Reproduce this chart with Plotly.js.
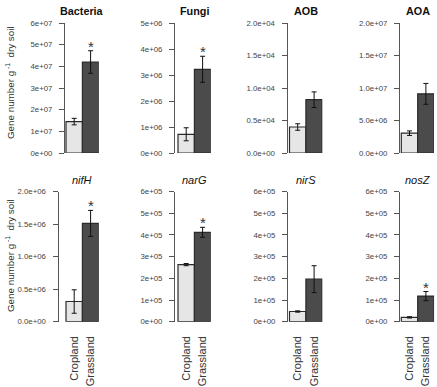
<!DOCTYPE html>
<html>
<head>
<meta charset="utf-8">
<script src="https://cdn.plot.ly/plotly-3.0.1.min.js"></script>
<style>
  html, body { margin: 0; padding: 0; background: #fff; }
  #chart { width: 437px; height: 387px; }
</style>
</head>
<body>
<div id="chart"></div>
<script>
// Gene abundance (copies per g dry soil) in cropland vs grassland soils
const categories = ["Cropland", "Grassland"];

const genes = ["Bacteria", "Fungi", "AOB", "AOA", "nifH", "narG", "nirS", "nosZ"];

const bacteriaMean = [1.45e7, 4.2e7];
const bacteriaErr  = [0.15e7, 0.52e7];
const fungiMean    = [0.72e6, 3.22e6];
const fungiErr     = [0.25e6, 0.5e6];
const aobMean      = [0.40e4, 0.82e4];
const aobErr       = [0.05e4, 0.12e4];
const aoaMean      = [3.05e6, 9.1e6];
const aoaErr       = [0.35e6, 1.6e6];
const nifHMean     = [0.31e6, 1.51e6];
const nifHErr      = [0.18e6, 0.2e6];
const narGMean     = [2.63e5, 4.12e5];
const narGErr      = [0.05e5, 0.23e5];
const nirSMean     = [0.47e5, 1.96e5];
const nirSErr      = [0.03e5, 0.62e5];
const nosZMean     = [0.2e5, 1.18e5];
const nosZErr      = [0.03e5, 0.21e5];

// grassland significantly different from cropland
const significant = [true, true, false, false, true, true, false, true];

// y-axis ticks per panel
const ticksBacteria = [0, 1e7, 2e7, 3e7, 4e7, 5e7, 6e7];
const labelsBacteria = ["0e+00", "1e+07", "2e+07", "3e+07", "4e+07", "5e+07", "6e+07"];
const ticksFungi = [0, 1e6, 2e6, 3e6, 4e6, 5e6];
const labelsFungi = ["0e+00", "1e+06", "2e+06", "3e+06", "4e+06", "5e+06"];
const ticksAOB = [0, 0.5e4, 1.0e4, 1.5e4, 2.0e4];
const labelsAOB = ["0.0e+00", "0.5e+04", "1.0e+04", "1.5e+04", "2.0e+04"];
const ticksAOA = [0, 5e6, 1e7, 1.5e7, 2e7];
const labelsAOA = ["0.0e+00", "5.0e+06", "1.0e+07", "1.5e+07", "2.0e+07"];
const ticksNifH = [0, 0.5e6, 1.0e6, 1.5e6, 2.0e6];
const labelsNifH = ["0.0e+00", "0.5e+06", "1.0e+06", "1.5e+06", "2.0e+06"];
const ticksE5 = [0, 1e5, 2e5, 3e5, 4e5, 5e5, 6e5];
const labelsE5 = ["0e+00", "1e+05", "2e+05", "3e+05", "4e+05", "5e+05", "6e+05"];

const yTitle = "Gene number g<sup> -1</sup>  dry soil";

// ---------------------------------------------------------------
const W = 437, H = 387;
const FONT = "Liberation Sans, Arial, Helvetica, sans-serif";
const LIGHT = "#e6e6e6", DARK = "#4b4b4b", EDGE = "#2b2b2b";

const panels = [
  { mean: bacteriaMean, err: bacteriaErr, ticks: ticksBacteria, labels: labelsBacteria },
  { mean: fungiMean,    err: fungiErr,    ticks: ticksFungi,    labels: labelsFungi },
  { mean: aobMean,      err: aobErr,      ticks: ticksAOB,      labels: labelsAOB },
  { mean: aoaMean,      err: aoaErr,      ticks: ticksAOA,      labels: labelsAOA },
  { mean: nifHMean,     err: nifHErr,     ticks: ticksNifH,     labels: labelsNifH },
  { mean: narGMean,     err: narGErr,     ticks: ticksE5,       labels: labelsE5 },
  { mean: nirSMean,     err: nirSErr,     ticks: ticksE5,       labels: labelsE5 },
  { mean: nosZMean,     err: nosZErr,     ticks: ticksE5,       labels: labelsE5 }
];

// panel geometry in pixels
const axisPx = [65, 175, 287.5, 400, 58.5, 175, 288, 400];
const barLeftPx = [66, 178, 289.5, 401.3];
const barW = 16.4;
const rowTop = [23, 191.5];
const rowBottom = [153, 321.7];

const data = [];
const layout = {
  width: W, height: H,
  margin: { l: 0, r: 0, t: 0, b: 0 },
  paper_bgcolor: "#fff", plot_bgcolor: "#fff",
  showlegend: false,
  font: { family: FONT, color: "#333" },
  annotations: []
};

panels.forEach((p, i) => {
  const n = i + 1;
  const xa = n === 1 ? "x" : "x" + n;
  const ya = n === 1 ? "y" : "y" + n;
  const col = i % 4, row = Math.floor(i / 4);
  const left = barLeftPx[col];
  const right = left + 2 * barW;

  data.push({
    type: "bar",
    x: [0, 1],
    y: p.mean,
    width: 1,
    xaxis: xa, yaxis: ya,
    marker: { color: [LIGHT, DARK], line: { color: EDGE, width: 1.2 } },
    error_y: { type: "data", array: p.err, visible: true, color: "#111", thickness: 1, width: 2.5 },
    hoverinfo: "skip"
  });

  layout[n === 1 ? "xaxis" : "xaxis" + n] = {
    domain: [axisPx[i] / W, right / W],
    range: [-0.5 - (left - axisPx[i]) / barW, 1.5],
    anchor: ya,
    showline: false, showgrid: false, zeroline: false,
    tickmode: "array", tickvals: [0, 1], ticktext: categories,
    showticklabels: row === 1,
    tickangle: -90,
    ticks: row === 1 ? "outside" : "",
    ticklen: 9, tickcolor: "rgba(0,0,0,0)",
    tickfont: { family: FONT, size: 11, color: "#333" },
    fixedrange: true
  };

  layout[n === 1 ? "yaxis" : "yaxis" + n] = {
    domain: [1 - rowBottom[row] / H, 1 - rowTop[row] / H],
    range: [0, p.ticks[p.ticks.length - 1]],
    anchor: xa,
    showline: true, linecolor: "#555", linewidth: 1,
    showgrid: false, zeroline: false,
    ticks: "outside", ticklen: 5, tickcolor: "#555", tickwidth: 1,
    tickmode: "array", tickvals: p.ticks, ticktext: p.labels,
    ticklabelstandoff: 5,
    tickfont: { family: FONT, size: 7.8, color: "#444" },
    fixedrange: true
  };

  // panel title
  const top = row === 0;
  layout.annotations.push({
    xref: "paper", yref: "paper",
    x: (left + barW) / W, y: 1 - (top ? 11 : 180) / H,
    xanchor: "center", yanchor: "middle",
    text: top ? "<b>" + genes[i] + "</b>" : "<i>" + genes[i] + "</i>",
    showarrow: false,
    font: { family: FONT, size: top ? 10.8 : 11, color: "#111" }
  });

  // significance marker above the grassland bar
  if (significant[i]) {
    layout.annotations.push({
      xref: xa, yref: ya,
      x: 1, y: p.mean[1] + p.err[1],
      xanchor: "center", yanchor: "bottom",
      yshift: -6,
      text: "*", showarrow: false,
      font: { family: FONT, size: 15, color: "#333" }
    });
  }
});

// shared y-axis titles, one per row
[0, 1].forEach(row => {
  layout.annotations.push({
    xref: "paper", yref: "paper",
    x: 10 / W, y: 1 - (row === 0 ? 83 : 256) / H,
    xanchor: "center", yanchor: "middle",
    textangle: -90,
    text: yTitle, showarrow: false,
    font: { family: FONT, size: 9.8, color: "#333" }
  });
});

Plotly.newPlot("chart", data, layout, { staticPlot: true, displayModeBar: false });
</script>
</body>
</html>
